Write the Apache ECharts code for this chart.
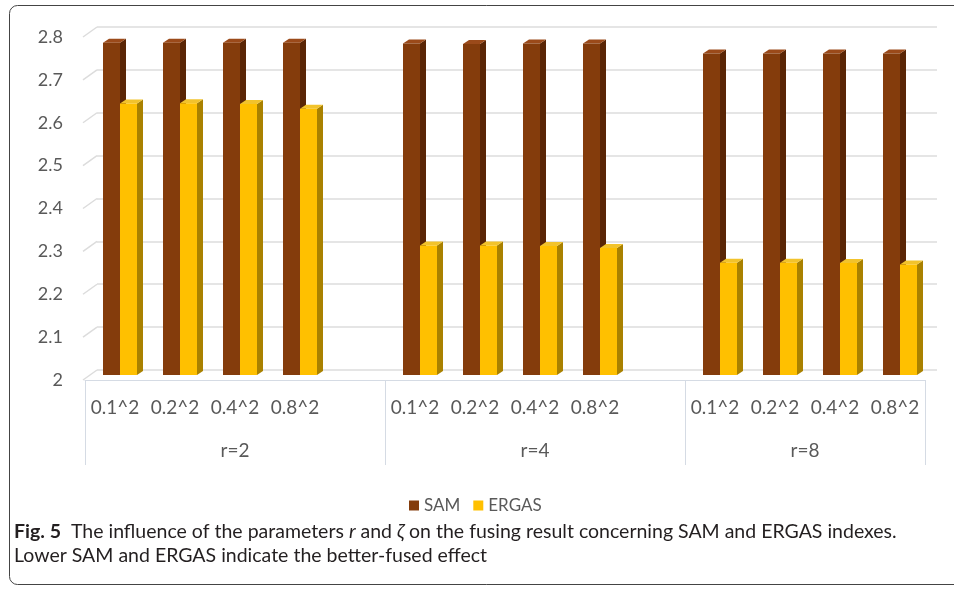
<!DOCTYPE html>
<html lang="en">
<head>
<meta charset="utf-8">
<title>SAM / ERGAS</title>
<script src="https://cdn.jsdelivr.net/npm/echarts@6/dist/echarts.min.js"></script>
<style>
  html, body { margin: 0; padding: 0; background: #fff; }
  #container { width: 954px; height: 591px; }
</style>
</head>
<body>
<div id="container"></div>
<script>
    // data
    const paramLabels = ["0.1^2", "0.2^2", "0.4^2", "0.8^2"];
    const groupLabels = ["r=2", "r=4", "r=8"];
    const samValues = [2.775, 2.775, 2.775, 2.775, 2.773, 2.772, 2.773, 2.773, 2.750, 2.750, 2.750, 2.750];
    const ergasValues = [2.633, 2.634, 2.632, 2.621, 2.302, 2.302, 2.301, 2.296, 2.262, 2.262, 2.261, 2.258];
    const yTicks = [2, 2.1, 2.2, 2.3, 2.4, 2.5, 2.6, 2.7, 2.8];

    const Y_MIN = 2, Y_MAX = 2.8;
    const BAR_W = 17;          // front face width of one bar
    const MID_DX = 5, MID_DY = -5;   // bars sit a bit behind the front edge
    const DEPTH_DX = 6, DEPTH_DY = -4;
    const BACK_DX = 12, BACK_DY = -10;
    const FONT = "Lato, 'Noto Sans', sans-serif";
    const TEXT = "#595959";
    const BOX = "#d5dbe4";

    // one blank slot after every group but the last
    const categories = [];
    const slotOf = [];
    const groupStart = [];
    groupLabels.forEach((g, gi) => {
        groupStart.push(categories.length);
        paramLabels.forEach(p => {
            slotOf.push(categories.length);
            categories.push(p);
        });
        if (gi < groupLabels.length - 1) categories.push("");
    });
    const nSlots = categories.length;
    const groupEnds = groupStart.slice(1).concat([nSlots]);
    const groupCenters = groupStart.map((s, i) => (s + groupEnds[i]) / 2);

    const samData = samValues.map((v, i) => [slotOf[i], v]);
    const ergasData = ergasValues.map((v, i) => [slotOf[i], v]);

    function bar3d(left, front, sideColor, topColor) {
        return function (params, api) {
            const slot = api.value(0);
            const top = api.coord([slot, api.value(1)]);
            const base = api.coord([slot, Y_MIN]);
            const x0 = top[0] + MID_DX - (left ? BAR_W : 0);
            const x1 = x0 + BAR_W;
            const yt = top[1] + MID_DY;
            const yb = base[1] + MID_DY;
            return {
                type: "group",
                children: [
                    {
                        type: "polygon",
                        shape: { points: [[x1, yt], [x1 + DEPTH_DX, yt + DEPTH_DY], [x1 + DEPTH_DX, yb + DEPTH_DY], [x1, yb]] },
                        style: { fill: sideColor }
                    },
                    {
                        type: "polygon",
                        shape: { points: [[x0, yt], [x1, yt], [x1 + DEPTH_DX, yt + DEPTH_DY], [x0 + DEPTH_DX, yt + DEPTH_DY]] },
                        style: { fill: topColor }
                    },
                    {
                        type: "rect",
                        shape: { x: x0, y: yt, width: BAR_W, height: yb - yt },
                        style: { fill: front }
                    }
                ]
            };
        };
    }

    const option = {
        animation: false,
        title: {
            left: 9,
            top: 515,
            text: "{b|Fig. 5}  The influence of the parameters {i|r} and {i|ζ} on the fusing result concerning SAM and ERGAS indexes.\nLower SAM and ERGAS indicate the better-fused effect",
            textStyle: {
                fontFamily: FONT,
                fontSize: 19.5,
                fontWeight: "normal",
                color: "#231f20",
                lineHeight: 24,
                rich: {
                    b: { fontFamily: FONT, fontSize: 19.5, fontWeight: "bold", color: "#231f20", lineHeight: 24 },
                    i: { fontFamily: FONT, fontSize: 19.5, fontStyle: "italic", color: "#231f20", lineHeight: 24 }
                }
            }
        },
        legend: {
            left: 404,
            top: 492,
            icon: "rect",
            itemWidth: 10,
            itemHeight: 10,
            itemGap: 13,
            textStyle: { fontFamily: FONT, fontSize: 17, color: TEXT },
            data: ["SAM", "ERGAS"]
        },
        graphic: [{
            type: "rect",
            shape: { x: 9.5, y: 5.5, width: 970, height: 579, r: 8 },
            style: { fill: "none", stroke: "#444", lineWidth: 1 },
            silent: true
        }],
        grid: [
            { left: 85, right: 29, top: 37, bottom: 211 },
            { left: 85 + BACK_DX, right: 17, top: 37 + BACK_DY, bottom: 211 - BACK_DY }
        ],
        xAxis: [
            {
                type: "category",
                gridIndex: 0,
                data: categories,
                axisLine: { lineStyle: { color: BOX } },
                axisTick: { show: false },
                axisLabel: { interval: 0, margin: 18, fontFamily: FONT, fontSize: 19, color: TEXT }
            },
            {
                type: "value",
                gridIndex: 1,
                min: 0,
                max: 1,
                show: false
            },
            {
                type: "value",
                gridIndex: 0,
                position: "bottom",
                min: 0,
                max: nSlots,
                splitLine: { show: false },
                axisLine: { show: false },
                axisTick: {
                    show: true,
                    length: 85,
                    customValues: [0].concat(groupEnds),
                    lineStyle: { color: BOX }
                },
                axisLabel: {
                    customValues: groupCenters,
                    margin: 61,
                    fontFamily: FONT,
                    fontSize: 19,
                    color: TEXT,
                    formatter: v => groupLabels[groupCenters.indexOf(v)] || ""
                }
            }
        ],
        yAxis: [
            {
                type: "value",
                gridIndex: 0,
                min: Y_MIN,
                max: Y_MAX,
                interval: 0.1,
                splitLine: { show: false },
                axisLine: { show: false },
                axisTick: { show: false },
                axisLabel: {
                    margin: 22,
                    fontFamily: FONT,
                    fontSize: 18,
                    color: TEXT,
                    formatter: v => String(Math.round(v * 10) / 10)
                }
            },
            {
                type: "value",
                gridIndex: 1,
                min: Y_MIN,
                max: Y_MAX,
                interval: 0.1,
                axisLine: { show: false },
                axisTick: { show: false },
                axisLabel: { show: false },
                splitLine: { lineStyle: { color: "#dcdcdc", width: 1.5 } }
            }
        ],
        series: [
            {
                // side wall lines joining each label to the back wall
                type: "custom",
                xAxisIndex: 0,
                yAxisIndex: 0,
                silent: true,
                data: yTicks.map(t => [0, t]),
                renderItem: function (params, api) {
                    const p = api.coord([0, api.value(1)]);
                    const x = params.coordSys.x;
                    return {
                        type: "line",
                        shape: { x1: x - 2, y1: p[1], x2: x + BACK_DX, y2: p[1] + BACK_DY },
                        style: { stroke: "#dcdcdc", lineWidth: 1.5 }
                    };
                },
                z: 1
            },
            {
                name: "SAM",
                type: "custom",
                xAxisIndex: 0,
                yAxisIndex: 0,
                itemStyle: { color: "#843c0c" },
                data: samData,
                encode: { x: 0, y: 1 },
                renderItem: bar3d(true, "#843c0c", "#5a2606", "#9b4a1a"),
                z: 2
            },
            {
                name: "ERGAS",
                type: "custom",
                xAxisIndex: 0,
                yAxisIndex: 0,
                itemStyle: { color: "#ffc000" },
                data: ergasData,
                encode: { x: 0, y: 1 },
                renderItem: bar3d(false, "#ffc000", "#a98100", "#f2c32c"),
                z: 3
            }
        ]
    };

    const chart = echarts.init(document.getElementById("container"));
    chart.setOption(option);
</script>
</body>
</html>
